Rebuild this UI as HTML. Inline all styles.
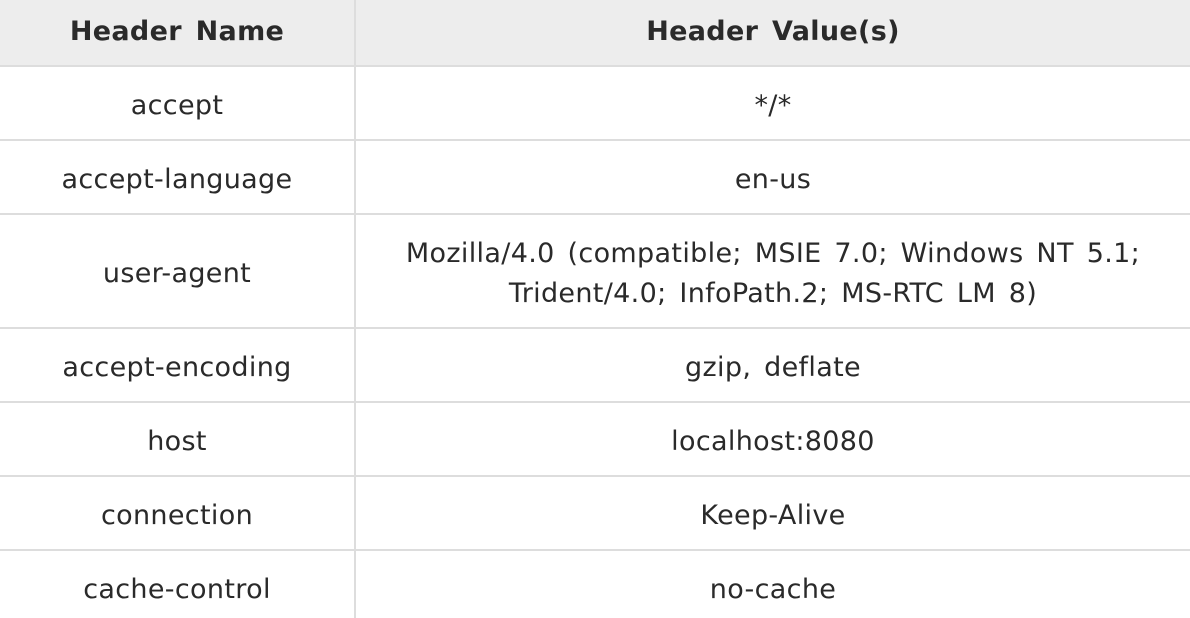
<!DOCTYPE html>
<html><head><meta charset="utf-8"><style>
html,body{margin:0;padding:0;width:1190px;height:618px;overflow:hidden;background:#fff}
body{position:relative;font-family:"DejaVu Sans","Liberation Sans",sans-serif;font-size:27px;letter-spacing:0.33px;word-spacing:4px;color:#2a2a2a}
.hdr{position:absolute;left:0;top:0;width:1190px;height:65px;background:#ededed}
.h{position:absolute;left:0;width:1190px;height:2px;background:#dddddd}
.v{position:absolute;left:354px;top:0;width:2px;height:618px;background:#dddddd}
.t{position:absolute;text-align:center;line-height:40px;white-space:nowrap}
.c1{left:0;width:354px}
.c2{left:356px;width:834px}
b{font-weight:bold}
</style></head><body>
<div class="hdr"></div>
<div class="h" style="top:65px"></div>
<div class="h" style="top:139px"></div>
<div class="h" style="top:213px"></div>
<div class="h" style="top:327px"></div>
<div class="h" style="top:401px"></div>
<div class="h" style="top:475px"></div>
<div class="h" style="top:549px"></div>
<div class="v"></div>

<div class="t c1" style="top:12px"><b>Header Name</b></div>
<div class="t c2" style="top:12px"><b>Header Value(s)</b></div>

<div class="t c1" style="top:86px">accept</div>
<div class="t c2" style="top:86px">*/*</div>

<div class="t c1" style="top:160px">accept-language</div>
<div class="t c2" style="top:160px">en-us</div>

<div class="t c1" style="top:254px">user-agent</div>
<div class="t c2" style="top:234px">Mozilla/4.0 (compatible; MSIE 7.0; Windows NT 5.1;<br>Trident/4.0; InfoPath.2; MS-RTC LM 8)</div>

<div class="t c1" style="top:348px">accept-encoding</div>
<div class="t c2" style="top:348px">gzip, deflate</div>

<div class="t c1" style="top:422px">host</div>
<div class="t c2" style="top:422px">localhost:8080</div>

<div class="t c1" style="top:496px">connection</div>
<div class="t c2" style="top:496px">Keep-Alive</div>

<div class="t c1" style="top:570px">cache-control</div>
<div class="t c2" style="top:570px">no-cache</div>
</body></html>
